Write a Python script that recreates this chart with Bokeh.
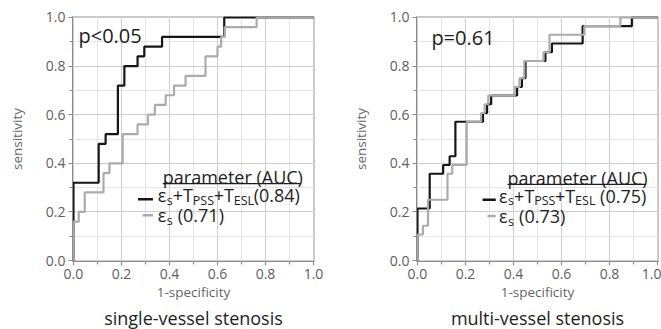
from bokeh.plotting import figure
from bokeh.models import Label, Title, FixedTicker, Range1d, PrintfTickFormatter
from bokeh.layouts import row
from bokeh.embed import file_html
from bokeh.resources import INLINE

# ---------------- data ----------------
tick_values = [0.0, 0.2, 0.4, 0.6, 0.8, 1.0]
minor_tick_values = [0.1, 0.3, 0.5, 0.7, 0.9]

# single-vessel stenosis: ROC points (1-specificity, sensitivity)
sv_combo_fpr = [0, 0, 0.105, 0.134, 0.185, 0.212, 0.267, 0.295, 0.369, 0.628, 1.0]
sv_combo_tpr = [0, 0.32, 0.48, 0.52, 0.72, 0.80, 0.84, 0.88, 0.92, 1.0, 1.0]
sv_eps_fpr = [0, 0, 0.022, 0.047, 0.125, 0.15, 0.205, 0.267, 0.31, 0.339, 0.384,
              0.419, 0.467, 0.55, 0.60, 0.615, 0.63, 0.763, 1.0]
sv_eps_tpr = [0, 0.16, 0.20, 0.28, 0.36, 0.40, 0.52, 0.56, 0.60, 0.64, 0.68,
              0.72, 0.76, 0.84, 0.88, 0.92, 0.96, 1.0, 1.0]

# multi-vessel stenosis
mv_combo_fpr = [0, 0, 0.051, 0.107, 0.134, 0.158, 0.273, 0.29, 0.307, 0.415, 0.435,
                0.45, 0.533, 0.56, 0.688, 0.893, 1.0]
mv_combo_tpr = [0, 0.214, 0.357, 0.393, 0.429, 0.571, 0.607, 0.643, 0.679, 0.714, 0.75,
                0.821, 0.857, 0.893, 0.964, 1.0, 1.0]
mv_eps_fpr = [0, 0, 0.023, 0.044, 0.125, 0.145, 0.205, 0.265, 0.28, 0.295, 0.405,
              0.425, 0.445, 0.525, 0.55, 0.695, 0.845, 1.0]
mv_eps_tpr = [0, 0.107, 0.143, 0.25, 0.357, 0.393, 0.571, 0.607, 0.643, 0.679, 0.714,
              0.75, 0.821, 0.857, 0.929, 0.964, 1.0, 1.0]

panel_titles = ["single-vessel stenosis", "multi-vessel stenosis"]
p_texts = ["p<0.05", "p=0.61"]
auc_combo = ["(0.84)", "(0.75)"]
auc_eps = ["(0.71)", "(0.73)"]

FONT = "Open Sans"
BLACK = "#161616"
GRAY = "#ababab"
TXT = "#1e1e1e"


def make_panel(combo_x, combo_y, eps_x, eps_y, title, ptext, auc1, auc2,
               width, border_left, border_right, ppos, leg, auc1_dx):
    p = figure(width=width, height=329, title=None,
               x_range=Range1d(-0.004, 1.004), y_range=Range1d(-0.004, 1.004),
               output_backend="svg", toolbar_location=None,
               min_border_left=border_left, min_border_right=border_right,
               min_border_top=16, min_border_bottom=0)
    p.outline_line_color = "#c8c8c8"
    p.background_fill_color = "white"
    p.border_fill_color = "white"

    for g in (p.xgrid[0], p.ygrid[0]):
        g.grid_line_color = "#cdcdcd"
        g.minor_grid_line_color = "#e4e4e4"

    for ax in (p.xaxis[0], p.yaxis[0]):
        ax.ticker = FixedTicker(ticks=tick_values, minor_ticks=minor_tick_values)
        ax.formatter = PrintfTickFormatter(format="%.1f")
        ax.axis_line_color = "#8c8c8c"
        ax.major_tick_line_color = "#8c8c8c"
        ax.minor_tick_line_color = "#8c8c8c"
        ax.major_tick_in = 0
        ax.major_tick_out = 4
        ax.minor_tick_in = 0
        ax.minor_tick_out = 3
        ax.major_label_text_font = FONT
        ax.major_label_text_font_size = "14px"
        ax.major_label_text_color = "#606060"
        ax.axis_label_text_font = FONT
        ax.axis_label_text_font_size = "13.5px"
        ax.axis_label_text_font_style = "normal"
        ax.axis_label_text_color = "#666666"
    p.xaxis.axis_label = "1-specificity"
    p.yaxis.axis_label = "sensitivity"
    p.xaxis.major_label_standoff = 3
    p.yaxis.major_label_standoff = 3
    p.xaxis.axis_label_standoff = 1
    p.yaxis.axis_label_standoff = 17

    p.add_layout(Title(text=title, align="center", text_font=FONT,
                       text_font_size="18px", text_font_style="normal",
                       text_color=TXT, standoff=0), "below")

    # ROC curves (black first, gray on top)
    p.step(combo_x, combo_y, mode="after", line_color=BLACK, line_width=2.2)
    p.step(eps_x, eps_y, mode="after", line_color=GRAY, line_width=2.2)

    # p-value
    p.add_layout(Label(x=ppos[0], y=ppos[1], text=ptext, text_font=FONT,
                       text_font_size="20px", text_color=TXT,
                       text_baseline="middle", text_align="left"))

    hx, hy, lx, l1y, l2y, s1, s2 = leg
    p.add_layout(Label(x=hx, y=hy, text="parameter (AUC)", text_font=FONT,
                       text_font_size="18px", text_color=TXT,
                       text_baseline="middle", text_align="left"))
    p.segment(x0=[hx], y0=[hy - 0.028], x1=[hx + 0.575], y1=[hy - 0.028],
              line_color=TXT, line_width=1.3)

    # legend line samples
    p.segment(x0=[s1[0]], y0=[s1[2]], x1=[s1[1]], y1=[s1[2]], line_color=BLACK, line_width=2.4)
    p.segment(x0=[s2[0]], y0=[s2[2]], x1=[s2[1]], y1=[s2[2]], line_color=GRAY, line_width=2.4)

    big, small = "18px", "12.5px"
    line1 = [("ε", big, 0, 0), ("s", small, 9, -5), ("+T", big, 15, 0),
             ("PSS", small, 35.1, -5), ("+T", big, 55.9, 0), ("ESL", small, 76, -5),
             (auc1, big, auc1_dx, 0)]
    line2 = [("ε", big, 0, 0), ("s", small, 9, -5), (auc2, big, 20, 0)]
    for pieces, yy in ((line1, l1y), (line2, l2y)):
        for txt, fs, dx, dy in pieces:
            p.add_layout(Label(x=lx, y=yy, x_offset=dx, y_offset=dy, text=txt,
                               text_font=FONT, text_font_size=fs, text_color=TXT,
                               text_baseline="middle", text_align="left"))
    return p


p1 = make_panel(sv_combo_fpr, sv_combo_tpr, sv_eps_fpr, sv_eps_tpr,
                panel_titles[0], p_texts[0], auc_combo[0], auc_eps[0],
                width=330, border_left=72, border_right=16,
                ppos=(0.021, 0.926),
                leg=(0.372, 0.344, 0.351, 0.269, 0.186,
                     (0.269, 0.331, 0.252), (0.288, 0.331, 0.186)),
                auc1_dx=95.9)
p2 = make_panel(mv_combo_fpr, mv_combo_tpr, mv_eps_fpr, mv_eps_tpr,
                panel_titles[1], p_texts[1], auc_combo[1], auc_eps[1],
                width=331, border_left=86, border_right=3,
                ppos=(0.058, 0.919),
                leg=(0.375, 0.341, 0.34, 0.267, 0.183,
                     (0.271, 0.326, 0.25), (0.292, 0.326, 0.183)),
                auc1_dx=101)

layout = row(p1, p2)
open("out.html", "w").write(file_html(layout, INLINE))
